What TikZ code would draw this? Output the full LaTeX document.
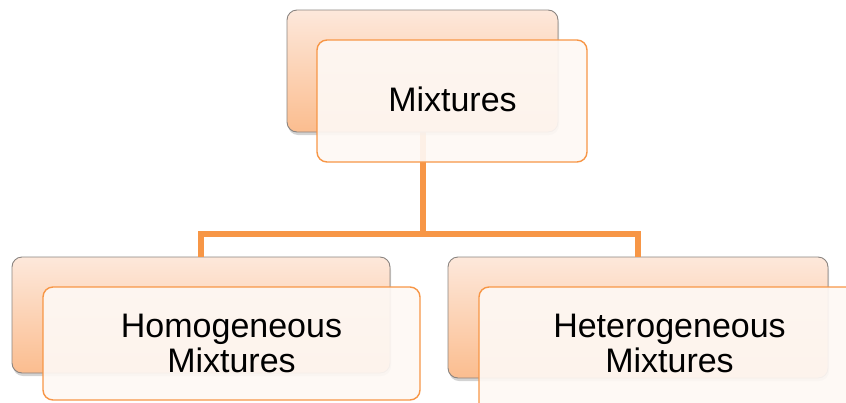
\documentclass[tikz,border=0pt]{standalone}
\usepackage{fontspec}
\setmainfont{Liberation Sans}
\usetikzlibrary{shadows}
\definecolor{conn}{HTML}{F79646}
\definecolor{backtop}{HTML}{FDE8DB}
\definecolor{backbot}{HTML}{FBBD8F}
\definecolor{backedge}{HTML}{8A8480}
\definecolor{frontfill}{HTML}{FEF8F4}
\tikzset{
  backbox/.style={draw=backedge, line width=0.9pt, rounded corners=10pt,
    top color=backtop, bottom color=backbot,
    drop shadow={opacity=0.35, shadow xshift=1pt, shadow yshift=-3pt}},
  frontbox/.style={draw=conn, line width=1.4pt, rounded corners=10pt,
    fill=frontfill, fill opacity=0.92},
  label/.style={font=\fontsize{34}{35}\selectfont, align=center, text=black, inner sep=0pt},
  connector/.style={draw=conn, line width=5.5pt}
}
\begin{document}
\begin{tikzpicture}[x=1pt, y=-1pt]
\useasboundingbox (0,0) rectangle (846,402);
% connector anchor coordinates
\coordinate (topbot) at (423,132);
\coordinate (junc) at (423,234);
\coordinate (lj) at (201,234);
\coordinate (rj) at (638,234);
% connectors
\draw[connector] (topbot) -- (junc);
\draw[connector, line cap=rect] (lj) -- (rj);
% back boxes
\path[backbox] (287,10) rectangle (558,132);
\path[backbox] (12,257) rectangle (390,373);
\path[backbox] (448,257) rectangle (828,378);
\coordinate (ltop) at (201,257);
\coordinate (rtop) at (638,257);
\draw[connector] (lj) -- (ltop);
\draw[connector] (rj) -- (rtop);
% front boxes
\path[frontbox] (317,40) rectangle (587,162);
\path[frontbox] (43,287) rectangle (420,400);
\path[frontbox] (479,287) rectangle (870,420);
% labels
\node[label] (mix) at (452.5,99.7) {Mixtures};
\node[label] (homo) at (231.5,343) {Homogeneous\\Mixtures};
\node[label] (hete) at (669.5,343) {Heterogeneous\\Mixtures};
\end{tikzpicture}
\end{document}
